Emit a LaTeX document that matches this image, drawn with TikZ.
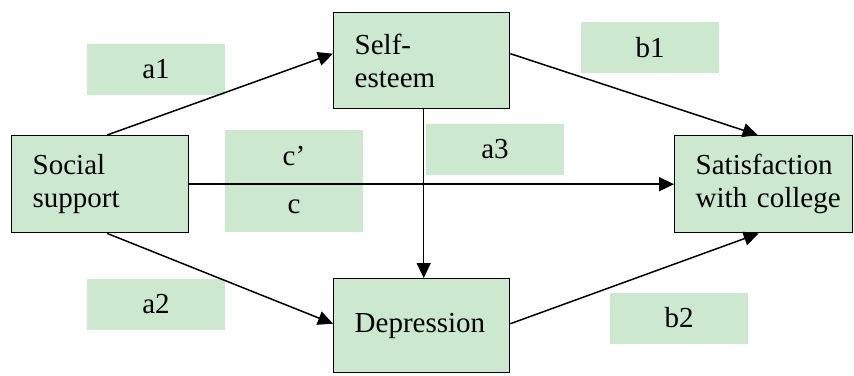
\documentclass[tikz,border=0pt]{standalone}
\usepackage{fontspec}
\setmainfont{Liberation Serif}
\usepackage{xcolor}
\usetikzlibrary{arrows.meta}
\definecolor{boxgreen}{HTML}{CCE8CF}

\begin{document}
\begin{tikzpicture}[x=1pt, y=-1pt, every node/.style={font=\fontsize{29}{33}\selectfont}, var/.style={draw,line width=1.4pt,fill=boxgreen,align=left,inner xsep=21pt,inner ysep=0pt,anchor=north west}, coef/.style={fill=boxgreen,minimum width=138pt,minimum height=51pt,inner sep=0pt}, path/.style={line width=1.5pt,-{Triangle[length=15pt,width=14pt]}}]
\useasboundingbox (0,0) rectangle (854,375);
\node[coef] (a1) at (156,69) {a1};
\node[coef] (b1) at (650,47.5) {b1};
\node[coef] (cp) at (294,155.5) {\raisebox{-4pt}{c’}};
\node[coef] (c) at (294,206.5) {\raisebox{-4pt}{c}};
\node[coef] (a3) at (495,149.5) {a3};
\node[coef] (a2) at (156,304) {a2};
\node[coef] (b2) at (679,318) {b2};
\node[var,text width=135pt,minimum height=97pt] (soc) at (11,135) {Social\\support};
\node[var,text width=134pt,minimum height=96pt] (self) at (333,12) {Self-\\esteem};
\node[var,text width=134pt,minimum height=94pt] (dep) at (333,278) {Depression};
\node[var,text width=136pt,minimum height=97pt] (sat) at (674,135) {Satisfaction\\\mbox{with college}};
\draw[path] ([xshift=7pt]soc.north) -- ([yshift=7pt]self.west);
\draw[path] ([xshift=7pt]soc.south) -- ([yshift=2pt]dep.west);
\draw[path] (soc) -- (sat);
\draw[path] ([xshift=2pt]self.south) -- ([xshift=2pt]dep.north);
\draw[path] ([yshift=7pt]self.east) -- ([xshift=-6pt]sat.north);
\draw[path] ([yshift=2pt]dep.east) -- ([xshift=-5pt]sat.south);
\end{tikzpicture}
\end{document}
